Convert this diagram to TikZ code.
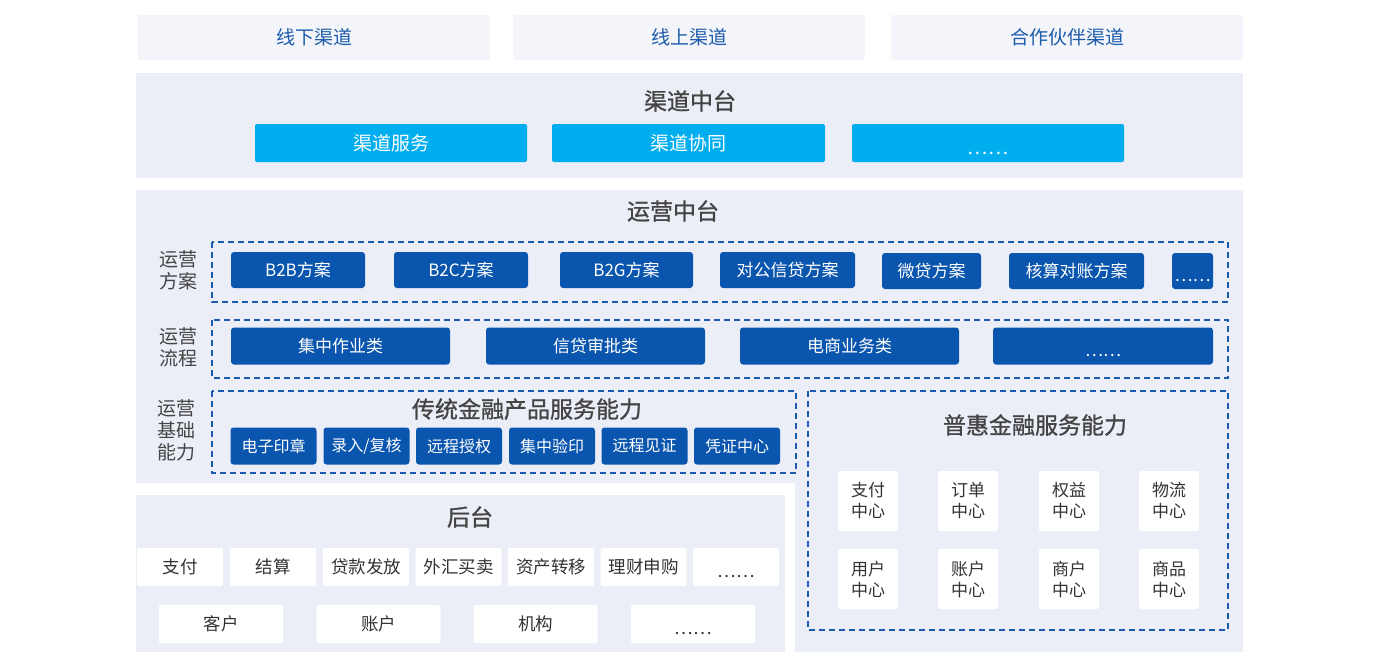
\documentclass[tikz,border=0pt]{standalone}
\usepackage{fontspec}
\setmainfont{Noto Sans CJK SC}
\newfontfamily\titlefont[FakeBold=1]{Noto Sans CJK SC}
\usepackage{tikz}
\usetikzlibrary{calc}
\definecolor{chanbg}{HTML}{F4F5FA}
\definecolor{chantext}{HTML}{1C5CAB}
\definecolor{panelbg}{HTML}{EBEEF7}
\definecolor{cyanbtn}{HTML}{00AEEF}
\definecolor{darkblue}{HTML}{0A55AE}
\definecolor{dashblue}{HTML}{1A5BB0}
\definecolor{titlegrey}{HTML}{444444}
\definecolor{boxtext}{HTML}{333333}
\newcommand{\moredots}{\raisebox{-0.6em}[0pt][0pt]{……}}

\begin{document}
\begin{tikzpicture}[x=1pt,y=-1pt,
    chanbox/.style={fill=chanbg,rounded corners=2pt,text=chantext,inner sep=0,font=\fontsize{19}{22}\selectfont},
    cyanbox/.style={fill=cyanbtn,rounded corners=2pt,text=white,inner sep=0,font=\fontsize{19}{22}\selectfont},
    bluebox/.style={fill=darkblue,rounded corners=3pt,text=white,inner sep=0,font=\fontsize{17}{20}\selectfont},
    smallblue/.style={bluebox,minimum width=86,minimum height=37,font=\fontsize{16}{19}\selectfont},
    whitebox/.style={fill=white,rounded corners=2pt,text=boxtext,inner sep=0,font=\fontsize{17.5}{21}\selectfont},
    gridbox/.style={whitebox,minimum width=60,minimum height=60,align=center,font=\fontsize{17}{21}\selectfont},
    title/.style={text=titlegrey,font=\titlefont\fontsize{23}{26}\selectfont},
    sidelabel/.style={text=titlegrey,align=center,font=\fontsize{19}{22}\selectfont},
    dashbox/.style={draw=dashblue,line width=1.5pt,dash pattern=on 6pt off 4pt}]
        \useasboundingbox (0,0) rectangle (1385,665);
        % channels
        \node[chanbox,minimum width=352,minimum height=45] (offline) at (314,37.5) {线下渠道};
        \node[chanbox,minimum width=352,minimum height=45] (online) at (689,37.5) {线上渠道};
        \node[chanbox,minimum width=352,minimum height=45] (partner) at (1067,37.5) {合作伙伴渠道};
        % channel middle platform
        \fill[panelbg] (136,73) rectangle (1243,178);
        \node[title] (chanmid) at (690,101) {渠道中台};
        \node[cyanbox,minimum width=272,minimum height=38] (chansvc) at (391,143) {渠道服务};
        \node[cyanbox,minimum width=273,minimum height=38] (chancoop) at (688.5,143) {渠道协同};
        \node[cyanbox,minimum width=272,minimum height=38] (chanmore) at (988,143) {\moredots};
        % operations middle platform
        \fill[panelbg] (136,190) -- (1243,190) -- (1243,652) -- (795,652) -- (795,483) -- (136,483) -- cycle;
        \node[title] (opmid) at (673,211) {运营中台};
        \node[sidelabel] (plan) at (178,270) {运营\\方案};
        \draw[dashbox] (212,242) rectangle (1228,302);
        \node[bluebox,minimum width=134,minimum height=36] (btob) at (298,270) {B2B方案};
        \node[bluebox,minimum width=134,minimum height=36] (btoc) at (461,270) {B2C方案};
        \node[bluebox,minimum width=133,minimum height=36] (btog) at (626.5,270) {B2G方案};
        \node[bluebox,minimum width=135,minimum height=36] (corp) at (787.5,270) {对公信贷方案};
        \node[bluebox,minimum width=99,minimum height=36] (micro) at (931.5,271) {微贷方案};
        \node[bluebox,minimum width=135,minimum height=36] (recon) at (1076.5,271) {核算对账方案};
        \node[bluebox,minimum width=41,minimum height=36] (planmore) at (1192.5,271) {\moredots};
        \node[sidelabel] (flow) at (178,347) {运营\\流程};
        \draw[dashbox] (212,320) rectangle (1228,378);
        \node[bluebox,minimum width=219,minimum height=37] (central) at (340.5,346) {集中作业类};
        \node[bluebox,minimum width=219,minimum height=37] (credit) at (595.5,346) {信贷审批类};
        \node[bluebox,minimum width=219,minimum height=37] (ecom) at (849.5,346) {电商业务类};
        \node[bluebox,minimum width=220,minimum height=37] (flowmore) at (1103,346) {\moredots};
        \node[sidelabel] (basic) at (176,430) {运营\\基础\\能力};
        \draw[dashbox] (212,391) rectangle (796,473);
        \node[title] (trad) at (527,409) {传统金融产品服务能力};
        \node[smallblue] (seal) at (273.5,446) {电子印章};
        \node[smallblue] (entry) at (366.5,446) {录入/复核};
        \node[smallblue] (remauth) at (459,446) {远程授权};
        \node[smallblue] (verify) at (552,446) {集中验印};
        \node[smallblue] (witness) at (644.5,446) {远程见证};
        \node[smallblue] (voucher) at (737,446) {凭证中心};
        \draw[dashbox] (808,391) rectangle (1228,630);
        \node[title] (inclusive) at (1035,425) {普惠金融服务能力};
        \node[gridbox] (pay) at (868,501) {支付\\中心};
        \node[gridbox] (order) at (968,501) {订单\\中心};
        \node[gridbox] (rights) at (1069,501) {权益\\中心};
        \node[gridbox] (logistics) at (1169,501) {物流\\中心};
        \node[gridbox] (user) at (868,579) {用户\\中心};
        \node[gridbox] (account) at (968,579) {账户\\中心};
        \node[gridbox] (merchant) at (1069,579) {商户\\中心};
        \node[gridbox] (goods) at (1169,579) {商品\\中心};
        % back office
        \fill[panelbg] (136,495) rectangle (785,652);
        \node[title] (back) at (470,517) {后台};
        \node[whitebox,minimum width=86,minimum height=38] (bpay) at (180,567) {支付};
        \node[whitebox,minimum width=86,minimum height=38] (settle) at (273,567) {结算};
        \node[whitebox,minimum width=86,minimum height=38] (loan) at (366,567) {贷款发放};
        \node[whitebox,minimum width=86,minimum height=38] (forex) at (458.5,567) {外汇买卖};
        \node[whitebox,minimum width=86,minimum height=38] (asset) at (551,567) {资产转移};
        \node[whitebox,minimum width=86,minimum height=38] (wealth) at (643.5,567) {理财申购};
        \node[whitebox,minimum width=86,minimum height=38] (backmore) at (736,567) {\moredots};
        \node[whitebox,minimum width=124,minimum height=38] (customer) at (221,624) {客户};
        \node[whitebox,minimum width=124,minimum height=38] (bacct) at (378.5,624) {账户};
        \node[whitebox,minimum width=124,minimum height=38] (org) at (535.5,624) {机构};
        \node[whitebox,minimum width=124,minimum height=38] (basemore) at (693,624) {\moredots};
      \end{tikzpicture}
\end{document}
